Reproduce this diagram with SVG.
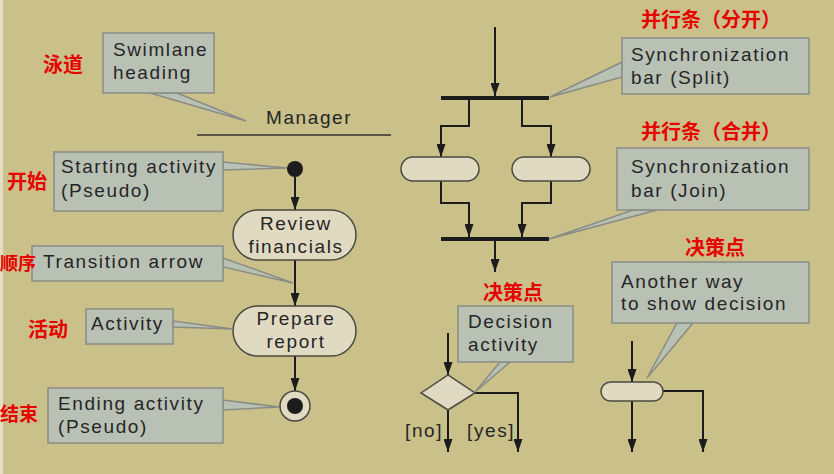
<svg xmlns="http://www.w3.org/2000/svg" width="834" height="474" viewBox="0 0 834 474">
<style>
.t{font-family:"Liberation Sans",Arial,sans-serif;font-size:19px;letter-spacing:1.6px;fill:#262626}
.c{text-anchor:middle}
.zh{font-family:"Noto Sans CJK SC",sans-serif;font-size:20px;font-weight:bold;fill:#e60000}
.box{fill:#b9c1b5;stroke:#8a8c84;stroke-width:1.5}
.node{fill:#e1dac3;stroke:#4a4a40;stroke-width:1.5}
.ln{fill:none;stroke:#1c1c1c;stroke-width:2}
.bar{fill:#1c1c1c}
</style>
<defs>
<marker id="a" markerUnits="userSpaceOnUse" markerWidth="13" markerHeight="9" refX="13" refY="4.5" orient="auto" viewBox="0 0 13 9">
<path d="M0,0 L13,4.5 L0,9 z" fill="#1c1c1c"/>
</marker>
</defs>
<rect width="834" height="474" fill="#c9c08a"/>
<rect x="0" y="0" width="3" height="474" fill="#e4ddc4"/>

<g id="swimlane">
<text class="t" x="266" y="124">Manager</text>
<line x1="197" y1="135" x2="391" y2="135" stroke="#333" stroke-width="1.5"/>
</g>

<g id="connectors">
<line class="ln" x1="295" y1="177" x2="295" y2="210" marker-end="url(#a)"/>
<line class="ln" x1="295" y1="260" x2="295" y2="306" marker-end="url(#a)"/>
<line class="ln" x1="295" y1="356" x2="295" y2="391" marker-end="url(#a)"/>
<line class="ln" x1="495" y1="27" x2="495" y2="96" marker-end="url(#a)"/>
<polyline class="ln" points="469,100 469,126 441,126 441,157" marker-end="url(#a)"/>
<polyline class="ln" points="522,100 522,126 551,126 551,157" marker-end="url(#a)"/>
<polyline class="ln" points="441,181 441,203 469,203 469,237" marker-end="url(#a)"/>
<polyline class="ln" points="551,181 551,203 522,203 522,237" marker-end="url(#a)"/>
<line class="ln" x1="495" y1="241" x2="495" y2="272" marker-end="url(#a)"/>
<line class="ln" x1="448" y1="333" x2="448" y2="375" marker-end="url(#a)"/>
<line class="ln" x1="448" y1="410" x2="448" y2="452" marker-end="url(#a)"/>
<polyline class="ln" points="475,393 518,393 518,452" marker-end="url(#a)"/>
<line class="ln" x1="632" y1="341" x2="632" y2="382" marker-end="url(#a)"/>
<line class="ln" x1="632" y1="401" x2="632" y2="452" marker-end="url(#a)"/>
<polyline class="ln" points="663,391 703,391 703,452" marker-end="url(#a)"/>
</g>

<g id="start"><circle cx="295" cy="169" r="8" fill="#1c1c1c"/></g>
<g id="review"><rect class="node" x="233" y="210" width="123" height="50" rx="25"/>
<text class="t c" x="296" y="230">Review</text><text class="t c" x="296" y="253">financials</text></g>
<g id="prepare"><rect class="node" x="233" y="306" width="123" height="50" rx="25"/>
<text class="t c" x="296" y="325">Prepare</text><text class="t c" x="296" y="348">report</text></g>
<g id="end"><circle class="node" cx="295" cy="406" r="15"/><circle cx="295" cy="406" r="8" fill="#1c1c1c"/></g>

<g id="split-bar"><rect class="bar" x="441" y="96" width="108" height="4"/></g>
<g id="fork-left"><rect class="node" x="401" y="157" width="78" height="24" rx="12"/></g>
<g id="fork-right"><rect class="node" x="512" y="157" width="78" height="24" rx="12"/></g>
<g id="join-bar"><rect class="bar" x="441" y="237" width="108" height="4"/></g>

<g id="decision"><polygon class="node" points="421,393 448,375 475,393 448,410"/>
<text class="t" x="405" y="437">[no]</text><text class="t" x="467" y="437">[yes]</text></g>
<g id="decision-alt"><rect class="node" x="601" y="382" width="62" height="19" rx="9.5"/></g>

<g id="callout-swimlane"><polygon class="box" points="150,93 177,93 246,121"/><rect class="box" x="103" y="33" width="111" height="60"/>
<text class="t" x="113" y="56">Swimlane</text><text class="t" x="113" y="79">heading</text></g>
<g id="callout-start"><polygon class="box" points="223,162 223,170 287,168"/><rect class="box" x="54" y="152" width="169" height="59"/>
<text class="t" x="61" y="173">Starting activity</text><text class="t" x="61" y="197">(Pseudo)</text></g>
<g id="callout-transition"><polygon class="box" points="223,258 223,267 293,283"/><rect class="box" x="32" y="246" width="191" height="35"/>
<text class="t" x="43" y="268">Transition arrow</text></g>
<g id="callout-activity"><polygon class="box" points="173,321 173,327 233,329"/><rect class="box" x="86" y="309" width="87" height="35"/>
<text class="t" x="91" y="330">Activity</text></g>
<g id="callout-end"><polygon class="box" points="223,400 223,410 279,407"/><rect class="box" x="48" y="388" width="175" height="55"/>
<text class="t" x="58" y="410">Ending activity</text><text class="t" x="58" y="433">(Pseudo)</text></g>
<g id="callout-split"><polygon class="box" points="622,62 622,77 550,97"/><rect class="box" x="622" y="38" width="187" height="56"/>
<text class="t" x="631" y="61">Synchronization</text><text class="t" x="631" y="84">bar (Split)</text></g>
<g id="callout-join"><polygon class="box" points="633,210 657,210 549,239"/><rect class="box" x="617" y="148" width="192" height="62"/>
<text class="t" x="631" y="173">Synchronization</text><text class="t" x="631" y="197">bar (Join)</text></g>
<g id="callout-decision"><polygon class="box" points="500,362 510,362 475,392"/><rect class="box" x="458" y="306" width="115" height="56"/>
<text class="t" x="468" y="328">Decision</text><text class="t" x="468" y="351">activity</text></g>
<g id="callout-alt"><polygon class="box" points="677,323 693,323 647,378"/><rect class="box" x="612" y="262" width="197" height="61"/>
<text class="t" x="621" y="288">Another way</text><text class="t" x="621" y="310">to show decision</text></g>

<g id="labels-zh">
<text class="zh" x="43" y="72">泳道</text>
<text class="zh" x="7" y="189">开始</text>
<text class="zh" x="0" y="270" style="font-size:18px">顺序</text>
<text class="zh" x="28" y="337">活动</text>
<text class="zh" x="0" y="421" style="font-size:19px">结束</text>
<text class="zh" x="641" y="27">并行条（分开）</text>
<text class="zh" x="641" y="139">并行条（合并）</text>
<text class="zh" x="483" y="300">决策点</text>
<text class="zh" x="685" y="255">决策点</text>
</g>
</svg>
